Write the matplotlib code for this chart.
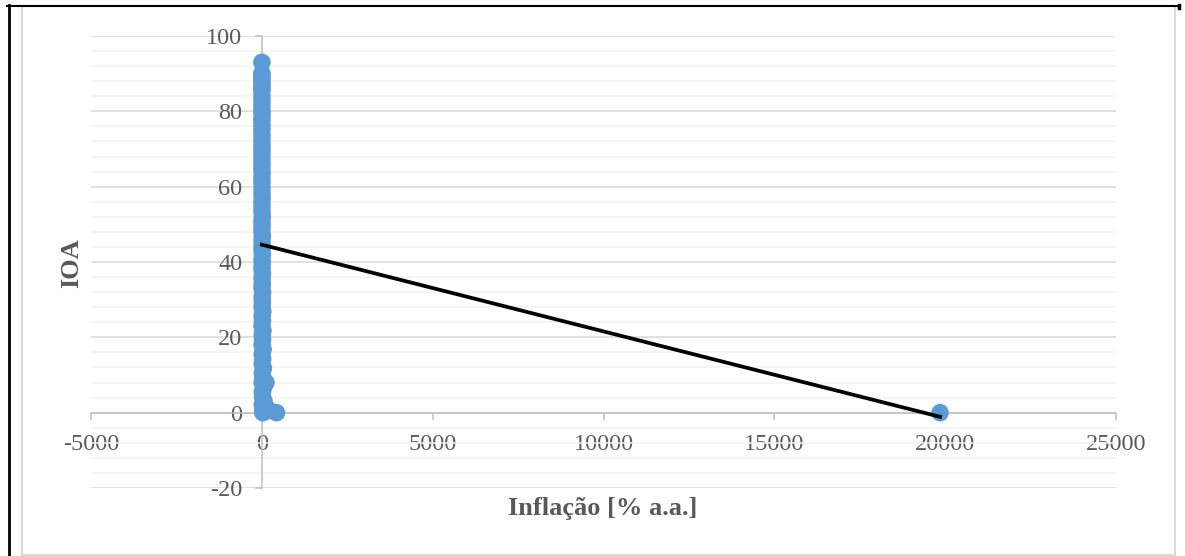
#!/usr/bin/env python
"""Dispersao IOA x Inflacao com linha de tendencia."""
import matplotlib
matplotlib.use('Agg')
import matplotlib.pyplot as plt
from matplotlib.lines import Line2D
from matplotlib.patches import Rectangle

plt.rcParams['font.family'] = ['Liberation Serif', 'DejaVu Serif']
plt.rcParams['axes.unicode_minus'] = False

# Inflacao [% a.a.] e IOA por observacao
inflacao = [1.8, 2.4, 3.1, 0.9, 2.7, 4.2, 1.5, 3.6, 2.2, 5.1,
            1.9, 2.8, 6.4, 3.3, 2.0, 4.7, 1.2, 3.9, 2.6, 7.3,
            2.1, 4.4, 3.0, 5.8, 1.7, 8.9, 2.5, 3.4, 6.1, 4.0,
            9.6, 2.9, 5.3, 3.7, 11.2, 4.8, 6.7, 2.3, 13.5, 5.5,
            7.9, 3.2, 15.8, 6.0, 10.4, 4.5, 18.3, 7.1, 12.6, 5.0,
            22.4, 8.4, 14.1, 6.6, 27.9, 9.2, 16.7, 4.9, 33.0, 11.8,
            19.5, 7.7, 38.6, 10.9, 24.2, 8.1, 45.3, 13.0, 30.7, 9.8,
            52.1, 15.4, 120.5, 20.6, 64.8, 12.2, 170.0, 35.5, 88.1, 41.9,
            28.3, 430.0, 19850.0]
ioa = [93.0, 90.1, 89.4, 88.7, 87.9, 87.0, 86.2, 85.5, 84.1, 82.8,
       81.6, 80.3, 79.5, 78.2, 77.4, 76.1, 75.0, 73.6, 72.4, 71.1,
       69.8, 68.5, 67.3, 66.0, 64.7, 63.5, 62.2, 61.0, 59.6, 58.3,
       57.1, 55.9, 54.6, 53.4, 52.1, 50.8, 49.6, 48.3, 47.0, 45.8,
       44.5, 43.3, 42.0, 40.7, 39.5, 38.2, 37.0, 35.7, 34.4, 33.2,
       31.9, 30.7, 29.4, 28.1, 26.9, 25.6, 24.4, 23.1, 21.8, 20.6,
       19.3, 18.1, 16.8, 15.5, 14.3, 13.0, 11.8, 10.5, 9.2, 8.0,
       6.7, 5.5, 8.0, 4.2, 3.0, 2.1, 1.0, 0.8, 0.3, 1.6,
       0.0, 0.0, 0.0]

# linha de tendencia (linear)
tendencia_x = [0.0, 19850.0]
tendencia_y = [44.6, -1.1]

xticks = [-5000, 0, 5000, 10000, 15000, 20000, 25000]
yticks = [-20, 0, 20, 40, 60, 80, 100]

cinza_txt = '#595959'
cinza_eixo = '#bfbfbf'

fig = plt.figure(figsize=(11.85, 5.56), dpi=100)
ax = fig.add_axes([91 / 1185, 1 - 488 / 556, 1025 / 1185, 452 / 556])

ax.set_xlim(-5000, 25000)
ax.set_ylim(-20, 100)
ax.set_xticks(xticks)
ax.set_yticks(yticks)
ax.set_yticks([v for v in range(-20, 101, 4) if v % 20 != 0], minor=True)

ax.grid(which='major', axis='y', color='#d9d9d9', linewidth=1.1, zorder=0)
ax.grid(which='minor', axis='y', color='#f2f2f2', linewidth=1.1, zorder=0)
ax.set_axisbelow(True)

for s in ['top', 'right']:
    ax.spines[s].set_visible(False)
ax.spines['left'].set_position(('data', 0))
ax.spines['bottom'].set_position(('data', 0))
for s in ['left', 'bottom']:
    ax.spines[s].set_color(cinza_eixo)
    ax.spines[s].set_linewidth(1.1)

ax.tick_params(axis='x', which='major', direction='out', length=5, width=1.1,
               color=cinza_eixo, labelcolor=cinza_txt, labelsize=17.5, pad=10)
ax.tick_params(axis='y', which='major', direction='out', length=5, width=1.1,
               color=cinza_eixo, labelcolor=cinza_txt, labelsize=17.5, pad=9)
ax.tick_params(axis='y', which='minor', length=0)

ax.scatter(inflacao, ioa, s=160, color='#5b9bd5', edgecolors='none',
           zorder=3, clip_on=False)
ax.plot(tendencia_x, tendencia_y, color='black', linewidth=2.7, zorder=4)

fig.text(603 / 1185, 1 - 509 / 556, 'Inflação [% a.a.]', ha='center', va='center',
         fontsize=19, fontweight='bold', color=cinza_txt)
fig.text(72 / 1185, 1 - 263 / 556, 'IOA', ha='center', va='center', rotation=90,
         fontsize=19, fontweight='bold', color=cinza_txt)

# bordas: area do grafico (cinza) e celula da tabela (preto)
fig.patches.append(Rectangle((22 / 1185, 1 / 556), 1153 / 1185, 549 / 556,
                             transform=fig.transFigure, fill=False,
                             edgecolor='#d9d9d9', linewidth=1.5))
fig.lines.append(Line2D([7 / 1185, 1180 / 1185], [1 - 5.5 / 556, 1 - 5.5 / 556],
                        transform=fig.transFigure, color='black', linewidth=1.5))
fig.lines.append(Line2D([8.5 / 1185, 8.5 / 1185], [0, 1 - 5 / 556],
                        transform=fig.transFigure, color='black', linewidth=2))
fig.lines.append(Line2D([1179 / 1185, 1179 / 1185], [1 - 5 / 556, 1 - 8 / 556],
                        transform=fig.transFigure, color='black', linewidth=2.5))

fig.savefig('out.png', dpi=100)
plt.close(fig)
